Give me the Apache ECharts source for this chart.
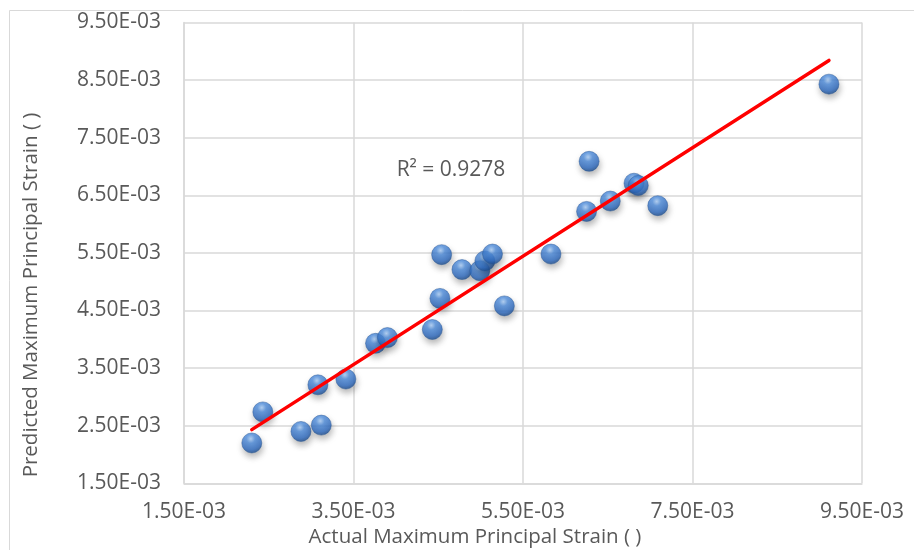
<!DOCTYPE html>
<html>
<head>
<meta charset="utf-8">
<script src="https://cdn.jsdelivr.net/npm/echarts@6/dist/echarts.min.js"></script>
<style>
  html, body { margin: 0; padding: 0; background: #fff; }
  #chart { width: 914px; height: 550px; }
</style>
</head>
<body>
<div id="chart"></div>
<script>
// actual vs predicted maximum principal strain
const actual = [
  0.00230, 0.00243, 0.00288, 0.00312, 0.00308, 0.00341, 0.00376, 0.00390,
  0.00443, 0.00452, 0.00454, 0.00478, 0.00499, 0.00505, 0.00514, 0.00528,
  0.00583, 0.00625, 0.00628, 0.00653, 0.00681, 0.00686, 0.00709, 0.00911
]
const predicted = [
  0.00220, 0.00274, 0.00240, 0.00251, 0.00321, 0.00331, 0.00393, 0.00403,
  0.00417, 0.00471, 0.00547, 0.00521, 0.00519, 0.00536, 0.00548, 0.00458,
  0.00548, 0.00622, 0.00709, 0.00640, 0.00671, 0.00667, 0.00632, 0.00843
]
const axisTicks = { min: 0.0015, max: 0.0095, xStep: 0.002, yStep: 0.001 }
const r2Label = 'R² = 0.9278'

const points = actual.map((x, i) => [x, predicted[i]])

// linear trendline (least squares), like the spreadsheet one
const n = actual.length
const mx = actual.reduce((a, b) => a + b, 0) / n
const my = predicted.reduce((a, b) => a + b, 0) / n
let sxy = 0, sxx = 0
actual.forEach((x, i) => {
  sxy += (x - mx) * (predicted[i] - my)
  sxx += (x - mx) * (x - mx)
})
const slope = sxy / sxx
const icpt = my - slope * mx
const xLo = Math.min(...actual)
const xHi = Math.max(...actual)
const trend = [[xLo, icpt + slope * xLo], [xHi, icpt + slope * xHi]]

const sci = v => {
  const e = Math.floor(Math.log10(Math.abs(v)) + 1e-9)
  const m = v / Math.pow(10, e)
  const es = (e < 0 ? '-' : '+') + String(Math.abs(e)).padStart(2, '0')
  return m.toFixed(2) + 'E' + es
}

const grey = '#595959'
const gridCol = '#d9d9d9'

const chart = echarts.init(document.getElementById('chart'))

const option = {
  backgroundColor: '#fff',
  animation: false,
  textStyle: { fontFamily: 'Open Sans' },
  grid: {
    left: 184,
    right: 52,
    top: 22.5,
    bottom: 66.7
  },
  xAxis: {
    type: 'value',
    min: axisTicks.min,
    max: axisTicks.max,
    interval: axisTicks.xStep,
    axisLine: { show: true, lineStyle: { color: gridCol, width: 1.5 } },
    axisTick: { show: false },
    axisLabel: {
      color: grey,
      fontSize: 21,
      margin: 18,
      formatter: sci
    },
    splitLine: { show: true, lineStyle: { color: gridCol, width: 1.5 } }
  },
  yAxis: {
    type: 'value',
    min: axisTicks.min,
    max: axisTicks.max,
    interval: axisTicks.yStep,
    axisLine: { show: true, lineStyle: { color: gridCol, width: 1.5 } },
    axisTick: { show: false },
    axisLabel: {
      color: grey,
      fontSize: 21,
      margin: 23,
      formatter: sci
    },
    splitLine: { show: true, lineStyle: { color: gridCol, width: 1.5 } }
  },
  graphic: [
    {
      type: 'rect',
      shape: { x: 9.5, y: 10.5, width: 1000, height: 1000 },
      style: { fill: 'none', stroke: gridCol, lineWidth: 1 },
      silent: true
    },
    {
      type: 'text',
      x: 475,
      y: 537,
      style: {
        text: 'Actual Maximum Principal Strain ( )',
        fill: grey,
        font: '20.5px "Open Sans"',
        textAlign: 'center',
        textVerticalAlign: 'middle'
      }
    },
    {
      type: 'text',
      x: 31,
      y: 295,
      rotation: Math.PI / 2,
      style: {
        text: 'Predicted Maximum Principal Strain ( )',
        fill: grey,
        font: '20.5px "Open Sans"',
        textAlign: 'center',
        textVerticalAlign: 'middle'
      }
    },
    {
      type: 'text',
      x: 451,
      y: 170,
      style: {
        text: r2Label,
        fill: grey,
        font: '21px "Open Sans"',
        textAlign: 'center',
        textVerticalAlign: 'middle'
      }
    }
  ],
  series: [
    {
      type: 'scatter',
      data: points,
      symbolSize: 20,
      z: 2,
      itemStyle: {
        color: new echarts.graphic.RadialGradient(0.45, 0.3, 0.7, [
          { offset: 0, color: '#acd0fa' },
          { offset: 0.3, color: '#4f8ede' },
          { offset: 0.75, color: '#2f6cc2' },
          { offset: 1, color: '#1c4b8c' }
        ]),
        borderColor: '#285898',
        borderWidth: 0.6,
        shadowColor: 'rgba(0,0,0,0.35)',
        shadowBlur: 6,
        shadowOffsetX: 1,
        shadowOffsetY: 4
      }
    },
    {
      type: 'line',
      data: trend,
      symbol: 'none',
      z: 3,
      lineStyle: { color: '#ff0000', width: 3.5, cap: 'round' }
    }
  ]
}

chart.setOption(option)
</script>
</body>
</html>
